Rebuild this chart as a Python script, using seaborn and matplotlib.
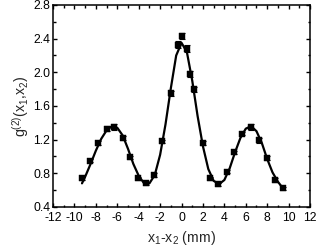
import numpy as np
import pandas as pd
import matplotlib
matplotlib.use("Agg")
import matplotlib.pyplot as plt
from matplotlib.ticker import MultipleLocator
import seaborn as sns

# measured points
x_data = [-9.33, -8.55, -7.77, -6.99, -6.28, -5.50, -4.81, -4.04, -3.32, -2.57,
          -1.79, -1.01, -0.30, 0.07, 0.49, 0.79, 1.20, 1.98, 2.66, 3.44,
          4.22, 4.93, 5.68, 6.47, 7.24, 7.96, 8.74, 9.46]
y_data = [0.74, 0.95, 1.16, 1.33, 1.35, 1.22, 0.99, 0.74, 0.68, 0.78,
          1.18, 1.75, 2.33, 2.43, 2.28, 1.98, 1.80, 1.16, 0.74, 0.67,
          0.82, 1.05, 1.27, 1.35, 1.19, 0.98, 0.72, 0.62]
y_err = [0.02, 0.02, 0.02, 0.03, 0.03, 0.02, 0.02, 0.02, 0.02, 0.02,
         0.02, 0.03, 0.04, 0.04, 0.04, 0.03, 0.03, 0.02, 0.02, 0.02,
         0.02, 0.02, 0.02, 0.03, 0.03, 0.02, 0.02, 0.02]

# fitted curve
x_fit = [-9.3, -9.0, -8.5, -8.0, -7.5, -7.0, -6.5, -6.0, -5.5, -5.0, -4.5, -4.0,
         -3.5, -3.0, -2.5, -2.0, -1.5, -1.0, -0.5, 0.0, 0.5, 1.0, 1.5, 2.0,
         2.5, 3.0, 3.5, 4.0, 4.5, 5.0, 5.5, 6.0, 6.5, 7.0, 7.5, 8.0, 8.5, 9.0, 9.3]
y_fit = [0.68, 0.76, 0.91, 1.07, 1.21, 1.31, 1.36, 1.34, 1.25, 1.09, 0.91, 0.77,
         0.68, 0.68, 0.78, 1.02, 1.38, 1.81, 2.20, 2.35, 2.24, 1.90, 1.48, 1.12,
         0.85, 0.71, 0.67, 0.72, 0.86, 1.05, 1.22, 1.33, 1.36, 1.30, 1.16, 0.97,
         0.81, 0.70, 0.65]

x_ticks = [-12, -10, -8, -6, -4, -2, 0, 2, 4, 6, 8, 10, 12]
y_ticks = [0.4, 0.8, 1.2, 1.6, 2.0, 2.4, 2.8]

sns.set_theme(style="ticks")
plt.rcParams['font.family'] = ['Liberation Sans', 'DejaVu Sans']
plt.rcParams['mathtext.fontset'] = 'custom'
plt.rcParams['mathtext.rm'] = 'Liberation Sans'
plt.rcParams['mathtext.it'] = 'Liberation Sans'

fig = plt.figure(figsize=(3.16, 2.49), dpi=100)
ax = fig.add_axes([0.168, 0.169, 0.813, 0.811])

df_fit = pd.DataFrame({"x": x_fit, "y": y_fit})
df_pts = pd.DataFrame({"x": x_data, "y": y_data})

sns.lineplot(data=df_fit, x="x", y="y", ax=ax, color="black", linewidth=1.6, sort=True)
ax.errorbar(x_data, y_data, yerr=y_err, fmt="none", ecolor="black",
            elinewidth=0.8, capsize=2, capthick=0.8)
sns.scatterplot(data=df_pts, x="x", y="y", ax=ax, marker="s", color="black",
                s=16, edgecolor="black", linewidth=0.3, zorder=3)

ax.set_xlim(-12, 12)
ax.set_ylim(0.4, 2.8)
ax.set_xticks(x_ticks)
ax.set_xticklabels([str(t) for t in x_ticks])
ax.set_yticks(y_ticks)
ax.set_yticklabels([f"{t:.1f}" for t in y_ticks])
ax.xaxis.set_minor_locator(MultipleLocator(1))
ax.yaxis.set_minor_locator(MultipleLocator(0.2))
ax.tick_params(which="both", direction="in", top=True, right=True,
               labelsize=8.8, colors="black")
ax.tick_params(axis="x", which="both", pad=3.5)
ax.tick_params(axis="y", which="both", pad=2)
ax.tick_params(which="major", length=3, width=1)
ax.tick_params(which="minor", length=1.8, width=1)
for s in ax.spines.values():
    s.set_linewidth(1.1)
    s.set_color("black")

ax.set_xlabel(r"x$_1$-x$_2$ (mm)", fontsize=10.2, labelpad=4)
ax.set_ylabel(r"g$^{(2)}$(x$_1$,x$_2$)", fontsize=10.2, labelpad=2)

fig.savefig("out.png", dpi=100)
